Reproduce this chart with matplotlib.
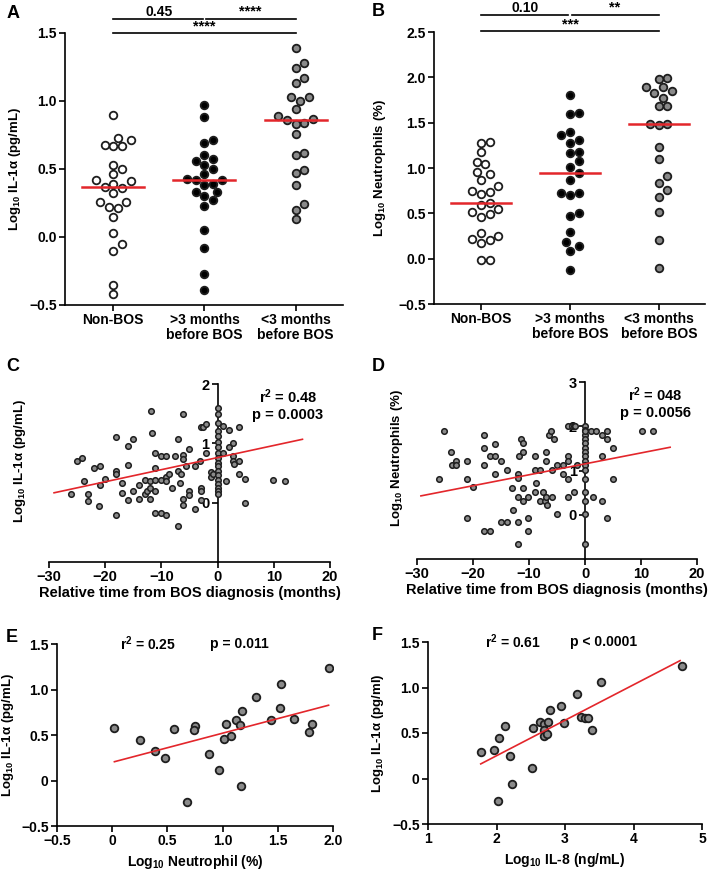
import numpy as np
import matplotlib
matplotlib.use('Agg')
import matplotlib.pyplot as plt

plt.rcParams['font.family'] = 'Liberation Sans'
plt.rcParams['font.weight'] = 'bold'
plt.rcParams['axes.labelweight'] = 'bold'
plt.rcParams['mathtext.fontset'] = 'custom'
plt.rcParams['mathtext.rm'] = 'Liberation Sans:bold'
plt.rcParams['mathtext.bf'] = 'Liberation Sans:bold'
plt.rcParams['mathtext.it'] = 'Liberation Sans:bold:italic'
plt.rcParams['mathtext.default'] = 'bf'
plt.rcParams['axes.linewidth'] = 1.2

# ---- data ----
groups = ['Non-BOS', '>3 months\nbefore BOS', '<3 months\nbefore BOS']

il1a_nonbos = [0.90, 0.73, 0.68, 0.67, 0.71, 0.67, 0.53, 0.50, 0.46, 0.41, 0.39, 0.42, 0.37,
               0.36, 0.32, 0.26, 0.26, 0.22, 0.21, 0.15, 0.03, -0.10, -0.05, -0.35, -0.42]
il1a_gt3 = [0.97, 0.88, 0.71, 0.69, 0.60, 0.56, 0.53, 0.57, 0.50, 0.46, 0.43, 0.42, 0.42,
            0.38, 0.39, 0.33, 0.33, 0.30, 0.27, 0.23, 0.05, -0.08, -0.27, -0.39]
il1a_lt3 = [1.39, 1.28, 1.24, 1.17, 1.13, 1.03, 1.03, 1.00, 0.94, 0.89, 0.86, 0.84, 0.87,
            0.83, 0.76, 0.62, 0.60, 0.49, 0.47, 0.38, 0.24, 0.20, 0.13]

neut_nonbos = [1.29, 1.28, 1.18, 1.07, 1.04, 0.96, 0.93, 0.87, 0.80, 0.74, 0.71, 0.75, 0.61,
               0.59, 0.55, 0.49, 0.46, 0.51, 0.28, 0.25, 0.21, 0.22, 0.17, -0.02, -0.02]
neut_gt3 = [1.80, 1.61, 1.60, 1.40, 1.36, 1.31, 1.28, 1.17, 1.18, 1.08, 1.01, 0.94, 0.87,
            0.72, 0.70, 0.72, 0.47, 0.50, 0.29, 0.18, 0.14, 0.09, -0.13]
neut_lt3 = [1.99, 1.98, 1.89, 1.89, 1.83, 1.85, 1.77, 1.68, 1.68, 1.47, 1.48, 1.48, 1.23,
            1.10, 0.91, 0.83, 0.76, 0.68, 0.52, 0.21, -0.10]

sig_a = ['0.45', '****', '****']
sig_b = ['0.10', '**', '***']

# panel C: time to BOS vs log10 IL-1a
c_time = [-26.0, -25.0, -24.1, -23.8, -23.1, -23.1, -22.0, -21.0, -21.0, -21.1, -20.0,
          -18.0, -18.0, -18.0, -18.0, -17.0, -17.0, -16.0, -16.0, -16.0, -15.0, -15.0,
          -14.0, -14.0, -13.0, -13.0, -12.5, -12.1, -12.1, -12.0, -11.8, -11.6, -11.2,
          -11.1, -11.1, -11.1, -11.1, -10.1, -10.1, -10.1, -9.1, -9.1, -9.1, -9.1, -8.6,
          -8.1, -7.6, -7.1, -7.1, -7.0, -6.7, -6.5, -6.1, -6.1, -6.1, -6.1, -6.1, -5.7,
          -5.1, -5.1, -5.1, -4.1, -4.1, -3.2, -3.0, -3.0, -3.0, -3.0, -2.6, -2.1, -2.1,
          -1.2, -1.2, -0.8,
          0, 0, 0, 0, 0, 0, 0, 0, 0, 0, 0, 0, 0, 0, 0, 0, 0, 0,
          1.0, 2.0, 1.0, 2.0, 2.8, 2.8, 2.8, 3.0, 3.8, 3.8, 3.8, 4.9, 4.9, 1.5, 9.9, 12.0]
c_il1a = [0.15, 0.70, 0.75, 0.37, 0.15, 0.02, 0.59, 0.62, 0.30, -0.06, 0.40,
          1.10, 0.53, 0.48, -0.21, 0.33, 0.16, 0.96, 0.63, 0.04, 1.08, 0.19,
          0.29, 0.07, 0.39, 0.15, 0.20, 0.37, 0.24, 0.07, 1.55, 1.17, 0.83,
          0.58, 0.38, 0.20, -0.18, 0.78, -0.18, 0.38, 0.79, 0.43, 0.37, -0.21, 0.48,
          0.25, 0.78, 1.07, 0.54, -0.40, 0.33, 0.48, 1.49, 0.81, 0.73, 0.06, -0.04, 0.62,
          0.90, 0.20, 0.13, -0.11, 0.62, 0.70, 1.28, 0.25, 0.19, 0.04, 1.27, 1.33, 0.83,
          0.52, 0.44, 0.48,
          1.59, 1.49, 1.35, 1.21, 1.13, 1.03, 0.93, 0.83, 0.76, 0.67, 0.61, 0.53, 0.46,
          0.39, 0.31, 0.25, 0.19, 0.14,
          1.29, 1.22, 0.83, 0.93, 1.01, 0.79, 0.70, 0.65, 1.27, 0.70, 0.48, 0.40, 0.00,
          0.37, 0.38, 0.37]
c_fit = (0.0204, 0.76)   # slope, intercept
c_fit_range = [-29.1, 15.1]

# panel D: time to BOS vs log10 neutrophils
d_time = [-26.0, -25.1, -24.0, -23.75, -23.0, -23.0, -21.0, -21.0, -21.0, -20.0,
          -18.0, -18.0, -18.0, -18.0, -17.0, -17.0, -16.0, -16.0, -16.0, -15.0, -15.0,
          -14.0, -13.9, -13.0, -12.9, -12.0, -12.0, -12.0, -12.0, -12.0, -11.85, -11.5,
          -11.1, -11.1, -11.0, -11.0, -10.1, -10.1, -10.1, -9.0, -9.0, -9.0, -8.75, -8.1,
          -8.0, -7.5, -7.1, -7.0, -7.0, -7.0, -6.8, -6.5, -6.0, -5.9, -5.9, -5.5, -5.0,
          -5.0, -4.0, -4.0, -3.0, -3.0, -3.0, -3.0, -3.0, -2.4, -2.0, -2.0, -1.7, -1.4,
          0, 0, 0, 0, 0, 0, 0, 0, 0, 0, 0, 0, 0, 0, 0, 0, 0,
          1.0, 2.0, 1.5, 3.0, 3.0, 3.0, 4.0, 4.0, 4.0, 5.0, 5.0, 10.1, 12.1]
d_neut = [0.81, 1.90, 1.41, 1.12, 1.21, 1.12, 1.21, 0.81, -0.07, 0.62,
          1.80, 1.51, 1.12, -0.37, -0.37, 1.32, 1.60, 1.32, 0.92, 1.21, -0.17,
          -0.17, 1.01, 0.61, 0.11, 0.92, 0.82, 0.41, -0.17, -0.67, 1.32, 1.71,
          1.62, 1.41, 0.61, 0.31, 0.41, -0.07, -0.37, 1.32, 1.01, 0.52, 0.72, 1.01,
          0.31, 0.52, 0.31, 1.41, 1.21, 0.41, 0.22, 1.80, 1.90, 1.01, 0.41, 1.71, 1.12,
          0.02, 1.12, 0.92, 1.32, 1.21, 0.81, 0.41, 2.01, 2.00, 0.52, 2.00, 2.01, 1.12,
          2.01, 1.91, 1.81, 1.71, 1.62, 1.51, 1.41, 1.32, 1.21, 1.12, 1.01, 0.81, 0.52,
          0.31, 0.02, -0.67, 1.90,
          1.90, 1.90, 0.41, 1.80, 1.32, 0.31, 1.90, 1.71, -0.07, 1.51, 0.81, 1.90, 1.90]
d_fit = (0.0247, 1.15)
d_fit_range = [-29.3, 15.2]

# panel E: log10 neutrophil vs log10 IL-1a
e_neut = [0.02, 0.25, 0.39, 0.48, 0.56, 0.68, 0.75, 0.74, 0.88, 0.97, 1.01, 1.03, 1.08,
          1.12, 1.16, 1.17, 1.18, 1.30, 1.44, 1.52, 1.53, 1.65, 1.78, 1.81, 1.96]
e_il1a = [0.58, 0.44, 0.32, 0.25, 0.57, -0.24, 0.60, 0.555, 0.29, 0.12, 0.46, 0.62, 0.49,
          0.67, 0.61, -0.06, 0.76, 0.92, 0.66, 0.80, 1.06, 0.68, 0.53, 0.62, 1.24]
e_fit = (0.32, 0.20)
e_fit_range = [0.02, 1.96]

# panel F: log10 IL-8 vs log10 IL-1a
f_il8 = [1.77, 1.96, 2.03, 2.13, 2.20, 2.22, 2.02, 2.52, 2.53, 2.63, 2.70, 2.70, 2.70,
         2.74, 2.75, 2.78, 2.94, 2.98, 3.18, 3.24, 3.29, 3.33, 3.40, 3.53, 4.71]
f_il1a = [0.29, 0.31, 0.44, 0.58, 0.25, -0.06, -0.25, 0.12, 0.56, 0.62, 0.60, 0.535, 0.47,
          0.49, 0.62, 0.755, 0.80, 0.61, 0.93, 0.68, 0.67, 0.67, 0.535, 1.06, 1.24]
f_fit = (0.39, -0.53)
f_fit_range = [1.77, 4.68]

RED = '#e3262b'
EDGE = '#1e1e1e'

W, H = 709, 872
fig = plt.figure(figsize=(W / 100, H / 100), dpi=100)


def add_ax(left, top, right, bottom):
    # pixel box -> figure fraction
    return fig.add_axes([left / W, 1 - bottom / H, (right - left) / W, (bottom - top) / H])


def style(ax):
    ax.spines['top'].set_visible(False)
    ax.spines['right'].set_visible(False)
    ax.tick_params(direction='out', length=4, width=1.2, labelsize=10, pad=2)


def bold_ticks(ax):
    for lab in ax.get_xticklabels() + ax.get_yticklabels():
        lab.set_fontweight('bold')


def swarm_x(vals, center, xpx, ypx, diam):
    # simple beeswarm: push points sideways until they don't overlap
    vals = np.asarray(vals)
    order = np.argsort(vals)
    placed = []
    xs = np.zeros(len(vals))
    steps = [0] + [s * k for k in range(1, 30) for s in (1, -1)]
    for i in order:
        y = vals[i] * ypx
        for k in steps:
            x = k * diam * 0.5
            if all((x - px) ** 2 + (y - py) ** 2 >= diam ** 2 for px, py in placed):
                break
        placed.append((x, y))
        xs[i] = center + x / xpx
    return xs


def dot_panel(ax, data, ylim, yticks, ylabel, sig, sig_y, box):
    faces = ['white', 'black', '#8a8a8a']
    xpx = (box[2] - box[0]) / 3.05
    ypx = (box[3] - box[1]) / (ylim[1] - ylim[0])
    for i, vals in enumerate(data):
        xs = swarm_x(vals, i, xpx, ypx, 8.6)
        ax.scatter(xs, vals, s=30, facecolor=faces[i], edgecolor=EDGE, linewidth=1.3, zorder=3)
        med = np.median(vals)
        ax.plot([i - 0.34, i + 0.34], [med, med], color=RED, lw=1.8, zorder=4)
    ax.set_xlim(-0.53, 2.52)
    ax.set_ylim(*ylim)
    ax.set_yticks(yticks)
    ax.set_xticks(range(3))
    ax.set_xticklabels(groups, fontsize=8.8, linespacing=1.05)
    ax.set_ylabel(ylabel, fontsize=9.5)
    style(ax)
    bold_ticks(ax)
    # significance brackets
    up, low = sig_y
    kw = dict(color='black', lw=1.2, clip_on=False)
    ax.plot([0, 0.98], [up, up], **kw)
    ax.plot([1.02, 2.0], [up, up], **kw)
    ax.plot([0, 2.0], [low, low], **kw)
    ax.text(0.5, up, sig[0], ha='center', va='bottom', fontsize=10)
    ax.text(1.5, up, sig[1], ha='center', va='bottom', fontsize=10.5)
    ax.text(1.0, low, sig[2], ha='center', va='bottom', fontsize=10.5)


# A
boxA = (65, 33, 343, 305)
axA = add_ax(*boxA)
dot_panel(axA, [il1a_nonbos, il1a_gt3, il1a_lt3], (-0.5, 1.5), [-0.5, 0, 0.5, 1.0, 1.5],
          r'Log$_{10}$ IL-1$\alpha$ (pg/mL)', sig_a, (1.605, 1.5), boxA)
axA.yaxis.set_label_coords(-0.15, 0.5)

# B
boxB = (434, 32, 705, 304)
axB = add_ax(*boxB)
dot_panel(axB, [neut_nonbos, neut_gt3, neut_lt3], (-0.5, 2.5), [-0.5, 0, 0.5, 1.0, 1.5, 2.0, 2.5],
          r'Log$_{10}$ Neutrophils (%)', sig_b, (2.69, 2.51), boxB)
axB.yaxis.set_label_coords(-0.17, 0.5)


def time_panel(ax, t, v, fit, fit_range, ylim, yticks, ylabel, r2, p, lab_x):
    ax.scatter(t, v, s=16, facecolor='#8a8a8a', edgecolor=EDGE, linewidth=1.1, zorder=3)
    fx = np.array(fit_range)
    ax.plot(fx, fit[0] * fx + fit[1], color=RED, lw=1.2, zorder=4)
    ax.set_xlim(-30, 20)
    ax.set_ylim(*ylim)
    ax.set_xticks([-30, -20, -10, 0, 10, 20])
    ax.set_yticks(yticks)
    ax.set_yticklabels([str(y) for y in yticks])
    ax.spines['left'].set_position(('data', 0))
    ax.spines['left'].set_zorder(2)
    style(ax)
    ax.tick_params(labelsize=10.5)
    bold_ticks(ax)
    ax.set_xlabel('Relative time from BOS diagnosis (months)', fontsize=10.5, labelpad=1)
    ax.set_ylabel(ylabel, fontsize=9.5)
    ax.yaxis.set_label_coords(lab_x, 0.57)
    ax.text(0.85, 0.98, r2 + '\n' + p, transform=ax.transAxes, ha='center', va='top',
            fontsize=10.5, linespacing=1.2)


# C
axC = add_ax(49, 384, 330, 562)
time_panel(axC, c_time, c_il1a, c_fit, c_fit_range, (-1, 2), [0, 1, 2],
           r'Log$_{10}$ IL-1$\alpha$ (pg/mL)', r'r$^2$ = 0.48', 'p = 0.0003', -0.075)

# D
axD = add_ax(417, 382, 697, 559)
time_panel(axD, d_time, d_neut, d_fit, d_fit_range, (-1, 3), [0, 1, 2, 3],
           r'Log$_{10}$ Neutrophils (%)', r'r$^2$ = 048', 'p = 0.0056', -0.043)


def corr_panel(ax, x, y, fit, fit_range, xlim, xticks, xticklabels, xlabel, ylabel, stats, lab_x):
    ax.scatter(x, y, s=30, facecolor='#8a8a8a', edgecolor=EDGE, linewidth=1.3, zorder=3)
    fx = np.array(fit_range)
    ax.plot(fx, fit[0] * fx + fit[1], color=RED, lw=1.2, zorder=4)
    ax.set_xlim(*xlim)
    ax.set_ylim(-0.5, 1.5)
    ax.set_xticks(xticks)
    ax.set_xticklabels(xticklabels)
    ax.set_yticks([-0.5, 0, 0.5, 1.0, 1.5])
    ax.set_yticklabels(['\u22120.5', '0', '0.5', '1.0', '1.5'])
    style(ax)
    bold_ticks(ax)
    ax.set_xlabel(xlabel, fontsize=10, labelpad=3)
    ax.set_ylabel(ylabel, fontsize=9.5)
    ax.yaxis.set_label_coords(lab_x, 0.5)
    for sx, txt in stats:
        ax.text(sx, 1.0, txt, transform=ax.transAxes, ha='center', va='center', fontsize=10)


# E
axE = add_ax(57, 644, 333, 826)
corr_panel(axE, e_neut, e_il1a, e_fit, e_fit_range, (-0.5, 2.0),
           [-0.5, 0, 0.5, 1.0, 1.5, 2.0], ['\u22120.5', '0', '0.5', '1.0', '1.5', '2.0'],
           r'Log$_{10}$ Neutrophil (%)', r'Log$_{10}$ IL-1$\alpha$ (pg/mL)',
           [(0.33, r'r$^2$ = 0.25'), (0.66, 'p = 0.011')], -0.15)

# F
axF = add_ax(428, 642, 702, 824)
corr_panel(axF, f_il8, f_il1a, f_fit, f_fit_range, (1, 5),
           [1, 2, 3, 4, 5], ['1', '2', '3', '4', '5'],
           r'Log$_{10}$ IL-8 (ng/mL)', r'Log$_{10}$ IL-1$\alpha$ (pg/ml)',
           [(0.31, r'r$^2$ = 0.61'), (0.64, 'p < 0.0001')], -0.153)

# panel letters
for letter, x, y in [('A', 13, 14), ('B', 378, 12), ('C', 13, 366),
                     ('D', 378, 366), ('E', 12, 637), ('F', 377, 636)]:
    fig.text(x / W, 1 - y / H, letter, fontsize=13, fontweight='bold', ha='center', va='center')

fig.savefig('out.png', dpi=100)
